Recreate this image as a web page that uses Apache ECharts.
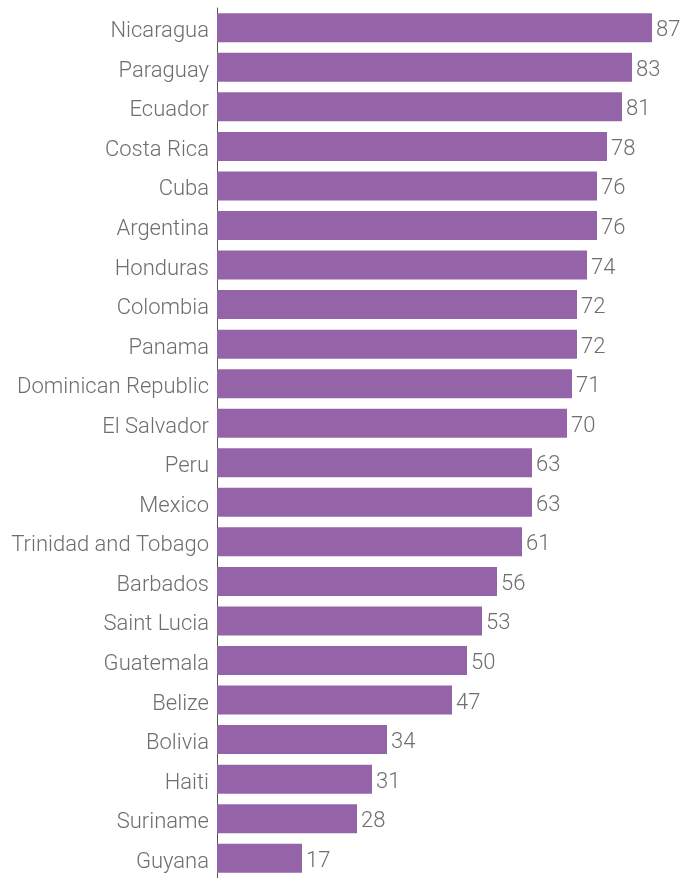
<!DOCTYPE html>
<html>
<head>
<meta charset="utf-8">
<script src="https://cdn.jsdelivr.net/npm/echarts@6/dist/echarts.min.js"></script>
<style>
  html, body { margin: 0; padding: 0; background: #fff; }
  #chart { width: 681px; height: 878px; }
</style>
</head>
<body>
<div id="chart"></div>
<script>
  var countries = ['Nicaragua', 'Paraguay', 'Ecuador', 'Costa Rica', 'Cuba', 'Argentina', 'Honduras',
    'Colombia', 'Panama', 'Dominican Republic', 'El Salvador', 'Peru', 'Mexico', 'Trinidad and Tobago',
    'Barbados', 'Saint Lucia', 'Guatemala', 'Belize', 'Bolivia', 'Haiti', 'Suriname', 'Guyana'];
  var values = [87, 83, 81, 78, 76, 76, 74, 72, 72, 71, 70, 63, 63, 61, 56, 53, 50, 47, 34, 31, 28, 17];

  var myChart = echarts.init(document.getElementById('chart'));
  var option = {
    backgroundColor: '#ffffff',
    animation: false,
    grid: {
      left: 217,
      top: 8,
      width: 460,
      height: 874
    },
    xAxis: {
      type: 'value',
      min: 0,
      max: 92,
      show: false
    },
    yAxis: {
      type: 'category',
      data: countries,
      inverse: true,
      axisLine: { show: true, lineStyle: { color: '#555555', width: 1 } },
      axisTick: { show: false },
      axisLabel: {
        margin: 8,
        formatter: function (v) { return '{c|' + v + '}'; },
        rich: {
          c: {
            color: '#6e6e6e',
            fontFamily: 'Roboto',
            fontWeight: 300,
            fontSize: 22,
            padding: [8, 0, 0, 0]
          }
        }
      }
    },
    series: [{
      type: 'bar',
      data: values,
      barWidth: 29,
      itemStyle: { color: '#9564a8' },
      label: {
        show: true,
        position: 'right',
        distance: 4,
        offset: [0, 3],
        color: '#6e6e6e',
        fontFamily: 'Roboto',
        fontWeight: 300,
        fontSize: 22
      }
    }]
  };
  myChart.setOption(option);
</script>
</body>
</html>
